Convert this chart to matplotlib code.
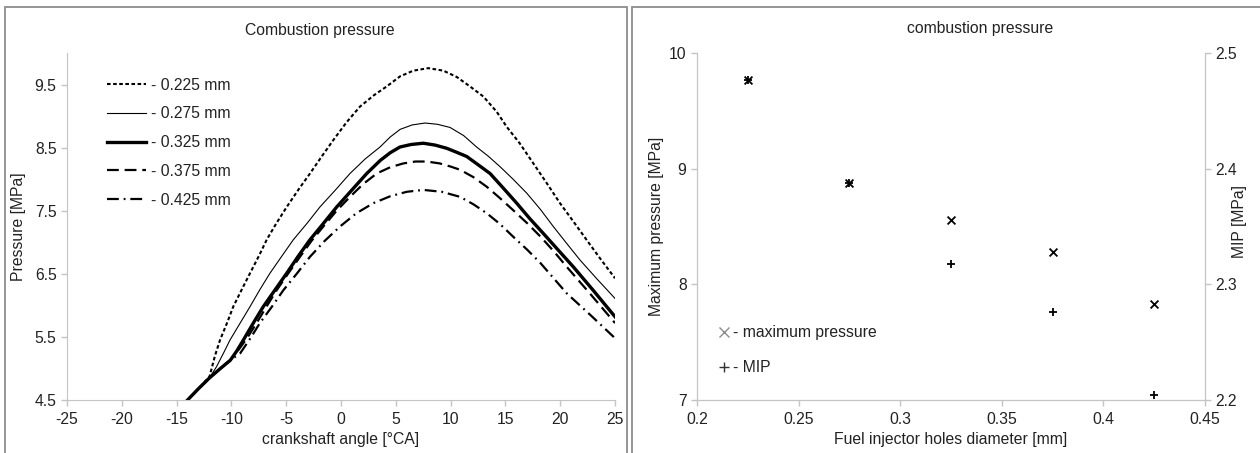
import numpy as np
import matplotlib
matplotlib.use('Agg')
import matplotlib.pyplot as plt
from matplotlib.lines import Line2D
from matplotlib.patches import Rectangle

plt.rcParams['font.family'] = ['Liberation Sans', 'DejaVu Sans']
plt.rcParams['font.size'] = 11.3
plt.rcParams['lines.scale_dashes'] = False
plt.rcParams['axes.unicode_minus'] = False

# --- left panel: pressure vs crank angle
ca_225 = [-14, -13, -12, -11.5, -11.04, -10.4, -9.83, -9, -8.3, -7.5, -6.78, -5.9, -4.95, -3.9, -2.83,
          -1.8, -0.7, 0.5, 1.73, 3.0, 4.17, 5.39, 6.6, 7.97, 9.34, 10.56, 11.77, 12.99, 14.2, 15.12,
          16.3, 17.55, 18.8, 19.98, 21.2, 22.4, 23.7, 25]
p_225 = [4.5, 4.68, 4.87, 5.2, 5.45, 5.72, 5.98, 6.27, 6.51, 6.78, 7.04, 7.3, 7.56, 7.83, 8.09,
         8.35, 8.62, 8.9, 9.15, 9.33, 9.47, 9.63, 9.72, 9.76, 9.72, 9.62, 9.47, 9.31, 9.07, 8.83,
         8.57, 8.25, 7.93, 7.62, 7.33, 7.04, 6.73, 6.43]
ca_275 = [-14, -13, -12, -11.35, -10.7, -10.13, -9.2, -8.3, -7.4, -6.48, -5.4, -4.35, -3.1, -1.92,
          -0.5, 0.82, 2.2, 3.56, 4.5, 5.4, 6.5, 7.66, 8.8, 9.95, 11.2, 12.37, 13.4, 14.5, 15.7,
          16.94, 18.2, 19.37, 20.6, 21.8, 23.4, 25]
p_275 = [4.5, 4.68, 4.85, 5.03, 5.25, 5.45, 5.72, 5.98, 6.25, 6.51, 6.78, 7.04, 7.3, 7.56,
         7.83, 8.09, 8.32, 8.51, 8.67, 8.79, 8.86, 8.89, 8.87, 8.82, 8.69, 8.51, 8.37, 8.20, 8.0,
         7.78, 7.52, 7.25, 6.98, 6.72, 6.41, 6.11]
ca_325 = [-14, -13, -12, -11, -10.1, -9.5, -8.91, -8.0, -7.09, -6.0, -4.95, -3.9, -2.83, -1.6,
          -0.39, 1.0, 2.35, 3.6, 4.5, 5.38, 6.4, 7.51, 8.6, 9.64, 10.5, 11.47, 12.5, 13.6, 14.8,
          16.03, 17.2, 18.46, 19.8, 21.2, 23.1, 25]
p_325 = [4.5, 4.68, 4.85, 5.0, 5.13, 5.28, 5.45, 5.72, 5.98, 6.25, 6.51, 6.78, 7.04, 7.3,
         7.56, 7.83, 8.09, 8.3, 8.42, 8.51, 8.55, 8.57, 8.54, 8.49, 8.43, 8.36, 8.23, 8.09, 7.86,
         7.62, 7.38, 7.14, 6.88, 6.61, 6.22, 5.82]
ca_375 = [-14, -13, -12, -11, -10.1, -9.2, -8.5, -7.7, -6.8, -5.87, -4.8, -3.74, -2.7, -1.61,
          -0.4, 0.82, 2.0, 3.26, 4.5, 5.69, 6.8, 7.82, 9.0, 10.0, 10.86, 12.1, 13.3, 14.5, 15.7,
          17.0, 18.2, 19.4, 20.6, 22.8, 25]
p_375 = [4.5, 4.68, 4.85, 5.0, 5.13, 5.33, 5.5, 5.72, 5.98, 6.24, 6.51, 6.77, 7.02, 7.25,
         7.5, 7.72, 7.92, 8.09, 8.19, 8.25, 8.28, 8.28, 8.25, 8.2, 8.15, 8.03, 7.88, 7.7, 7.51,
         7.3, 7.09, 6.86, 6.61, 6.17, 5.72]
ca_425 = [-14, -13, -12, -11, -10.1, -9.2, -8.3, -7.4, -6.3, -5.26, -4.0, -2.83, -1.5, -0.09,
          1.4, 2.95, 4.5, 6.0, 7.51, 9.2, 10.86, 12.1, 13.3, 14.5, 15.7, 17.0, 18.2, 19.4, 20.6,
          22.8, 25]
p_425 = [4.5, 4.68, 4.85, 5.0, 5.13, 5.24, 5.47, 5.72, 5.98, 6.24, 6.51, 6.77, 7.02, 7.25,
         7.46, 7.62, 7.73, 7.80, 7.83, 7.8, 7.72, 7.6, 7.46, 7.29, 7.09, 6.88, 6.67, 6.43, 6.19,
         5.84, 5.48]

labels = ['- 0.225 mm', '- 0.275 mm', '- 0.325 mm', '- 0.375 mm', '- 0.425 mm']

# --- right panel
diam = [0.225, 0.275, 0.325, 0.375, 0.425]
p_max = [9.77, 8.88, 8.56, 8.28, 7.83]
mip = [2.477, 2.388, 2.318, 2.276, 2.204]

grey = '#c4c4c4'
txt = '#222222'

fig = plt.figure(figsize=(12.6, 4.53), dpi=100)

# outer frames
fig.patches.append(Rectangle((5/1260, -0.1), 622/1260, 1 - 7/453 + 0.1, transform=fig.transFigure,
                             fill=False, ec='#8c8c8c', lw=1.3))
fig.patches.append(Rectangle((632/1260, -0.1), 640/1260, 1 - 7/453 + 0.1, transform=fig.transFigure,
                             fill=False, ec='#8c8c8c', lw=1.3))

ax1 = fig.add_axes([67/1260, 1 - 400/453, 548/1260, 347/453])
styles = [
    dict(lw=1.5, dashes=(2.6, 1.8)),
    dict(lw=0.8, ls='-'),
    dict(lw=2.4, ls='-'),
    dict(lw=1.6, dashes=(8.5, 4.2)),
    dict(lw=1.6, dashes=(8.5, 3.5, 1.3, 3.5)),
]
data = [(ca_225, p_225), (ca_275, p_275), (ca_325, p_325), (ca_375, p_375), (ca_425, p_425)]
for (x, y), st, lab in zip(data, styles, labels):
    ax1.plot(x, y, color='black', label=lab, solid_joinstyle='round', **st)

ax1.set_xlim(-25, 25)
ax1.set_ylim(4.5, 10)
ax1.set_xticks(np.arange(-25, 26, 5))
ax1.set_yticks([4.5, 5.5, 6.5, 7.5, 8.5, 9.5])
ax1.set_yticklabels(['4.5', '5.5', '6.5', '7.5', '8.5', '9.5'])
for s in ['top', 'right']:
    ax1.spines[s].set_visible(False)
for s in ['left', 'bottom']:
    ax1.spines[s].set_color(grey)
ax1.tick_params(colors=grey, labelcolor=txt, length=4, width=1)
ax1.tick_params(axis='x', pad=5)
ax1.set_xlabel('crankshaft angle [°CA]', color=txt)
ax1.xaxis.set_label_coords(0.5, -0.093)
ax1.set_ylabel('Pressure [MPa]', color=txt)
ax1.yaxis.set_label_coords(-0.074, 0.5)
ax1.legend(loc='upper left', bbox_to_anchor=(0.047, 0.97), frameon=False, handlelength=2.5,
           handletextpad=0.3, labelspacing=0.88, labelcolor=txt)
fig.text(320/1260, 1 - 30/453, 'Combustion pressure', ha='center', va='center', color=txt)

# right panel
ax2 = fig.add_axes([697/1260, 1 - 400/453, 508/1260, 347/453])
ax3 = ax2.twinx()
ax2.scatter(diam, p_max, marker='x', s=32, color='black', linewidths=1.3)
ax3.scatter(diam, mip, marker='+', s=36, color='black', linewidths=1.3)
ax2.set_xlim(0.2, 0.45)
ax2.set_ylim(7, 10)
ax3.set_ylim(2.2, 2.5)
ax2.set_xticks([0.2, 0.25, 0.3, 0.35, 0.4, 0.45])
ax2.set_xticklabels(['0.2', '0.25', '0.3', '0.35', '0.4', '0.45'])
ax2.set_yticks([7, 8, 9, 10])
ax3.set_yticks([2.2, 2.3, 2.4, 2.5])
ax3.set_yticklabels(['2.2', '2.3', '2.4', '2.5'])
for a in (ax2, ax3):
    a.spines['top'].set_visible(False)
    for s in ['left', 'right', 'bottom']:
        a.spines[s].set_color(grey)
    a.tick_params(colors=grey, labelcolor=txt, length=4, width=1)
ax2.tick_params(axis='x', pad=5)
ax2.set_xlabel('Fuel injector holes diameter [mm]', color=txt)
ax2.xaxis.set_label_coords(0.5, -0.093)
ax2.set_ylabel('Maximum pressure [MPa]', color=txt)
ax2.yaxis.set_label_coords(-0.064, 0.5)
ax3.set_ylabel('MIP [MPa]', color=txt, rotation=90)
ax3.yaxis.set_label_coords(1.054, 0.515)
handles = [Line2D([], [], ls='', marker='x', color='#8c8c8c', ms=7, mew=1.0),
           Line2D([], [], ls='', marker='+', color='#333333', ms=7, mew=1.0)]
ax2.legend(handles, ['- maximum pressure', '- MIP'], loc='lower left', bbox_to_anchor=(0.01, 0.03),
           frameon=False, handlelength=1.0, handletextpad=0.1, labelspacing=1.3, labelcolor=txt)
fig.text(980/1260, 1 - 28/453, 'combustion pressure', ha='center', va='center', color=txt)

fig.savefig('out.png', dpi=100)
